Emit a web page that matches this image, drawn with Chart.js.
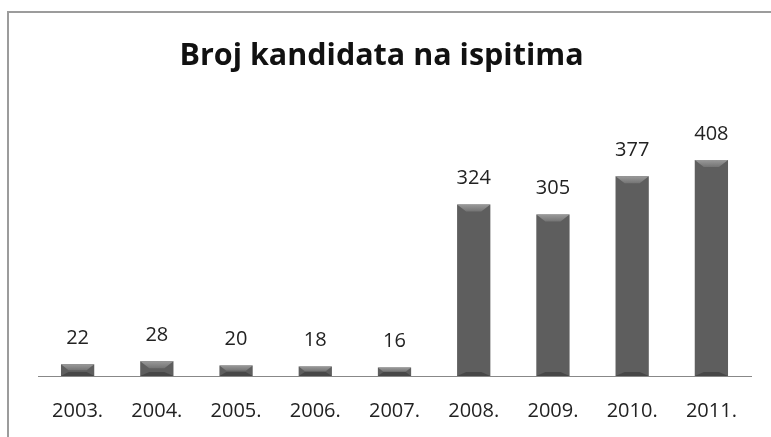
<!DOCTYPE html>
<html>
<head>
<meta charset="utf-8">
<script src="https://cdn.jsdelivr.net/npm/chart.js@4/dist/chart.umd.min.js"></script>
<style>
  html, body { margin: 0; padding: 0; background: #fff; overflow: hidden; }
  #wrap { position: relative; width: 771px; height: 437px; }
  #frame {
    position: absolute; left: 7px; top: 11px; width: 800px; height: 500px;
    border-left: 2px solid #9c9c9c; border-top: 2px solid #9c9c9c;
  }
  canvas { position: absolute; left: 0; top: 0; }
</style>
</head>
<body>
<div id="wrap">
  <div id="frame"></div>
  <canvas id="chart" width="771" height="437"></canvas>
</div>
<script>
const years = ["2003.", "2004.", "2005.", "2006.", "2007.", "2008.", "2009.", "2010.", "2011."];
const candidates = [22, 28, 20, 18, 16, 324, 305, 377, 408];
const chartTitle = "Broj kandidata na ispitima";

const FONT = "'Open Sans', Lato, sans-serif";

// grey bar face, darker at the sides
function barFill(context) {
  const bar = context.element;
  const chart = context.chart;
  if (!bar || bar.width == null || isNaN(bar.x)) return '#5e5e5e';
  const half = bar.width / 2;
  const g = chart.ctx.createLinearGradient(bar.x - half, 0, bar.x + half, 0);
  g.addColorStop(0, '#4a4a4a');
  g.addColorStop(0.04, '#3c3c3c');
  g.addColorStop(0.14, '#585858');
  g.addColorStop(0.5, '#636363');
  g.addColorStop(0.86, '#585858');
  g.addColorStop(1, '#383838');
  return g;
}

// bevel on top of each bar + the value above it
const bevelAndLabels = {
  id: 'bevelAndLabels',
  afterDatasetsDraw(chart) {
    const ctx = chart.ctx;
    const meta = chart.getDatasetMeta(0);
    meta.data.forEach((bar, i) => {
      const half = bar.width / 2;
      const left = bar.x - half, right = bar.x + half;
      const top = bar.y, bottom = bar.base;
      const h = bottom - top;
      const bev = Math.min(7, h / 2);
      ctx.save();
      // top bevel
      const g = ctx.createLinearGradient(0, top, 0, top + bev);
      g.addColorStop(0, '#9a9a9a');
      g.addColorStop(1, '#747474');
      ctx.fillStyle = g;
      ctx.beginPath();
      ctx.moveTo(left, top);
      ctx.lineTo(right, top);
      ctx.lineTo(right - bev * 1.3, top + bev);
      ctx.lineTo(left + bev * 1.3, top + bev);
      ctx.closePath();
      ctx.fill();
      // bottom bevel
      ctx.fillStyle = 'rgba(30,30,30,0.35)';
      ctx.beginPath();
      ctx.moveTo(left, bottom);
      ctx.lineTo(right, bottom);
      ctx.lineTo(right - bev * 1.3, bottom - Math.min(4, bev));
      ctx.lineTo(left + bev * 1.3, bottom - Math.min(4, bev));
      ctx.closePath();
      ctx.fill();
      // value label
      ctx.fillStyle = '#222';
      ctx.font = "20px " + FONT;
      ctx.textAlign = 'center';
      ctx.textBaseline = 'middle';
      ctx.fillText(String(candidates[i]), bar.x, top - 26);
      ctx.restore();
    });
  }
};

const ctx = document.getElementById('chart').getContext('2d');

const chart = new Chart(ctx, {
  type: 'bar',
  data: {
    labels: years,
    datasets: [{
      data: candidates,
      backgroundColor: barFill,
      borderWidth: 0,
      barPercentage: 0.42,
      categoryPercentage: 1.0
    }]
  },
  options: {
    responsive: false,
    animation: false,
    layout: { padding: { left: 12, right: 20, top: 0, bottom: 0 } },
    plugins: {
      legend: { display: false },
      tooltip: { enabled: false },
      title: {
        display: true,
        text: chartTitle,
        color: '#111',
        font: { family: FONT, size: 30.5, weight: 'bold', lineHeight: 1.2 },
        padding: { top: 38, bottom: 6.4 }
      }
    },
    scales: {
      x: {
        grid: { display: false, drawTicks: false },
        border: { display: true, color: '#888', width: 1 },
        ticks: {
          color: '#222',
          font: { family: FONT, size: 20, lineHeight: 1.2 },
          padding: 23,
          maxRotation: 0
        },
        afterFit(scale) { scale.height = 61; }
      },
      y: {
        min: 0,
        max: 557,
        grid: { display: false, drawTicks: false },
        border: { display: false },
        ticks: { display: false },
        afterFit(scale) { scale.width = 26; }
      }
    }
  },
  plugins: [bevelAndLabels]
});
</script>
</body>
</html>
